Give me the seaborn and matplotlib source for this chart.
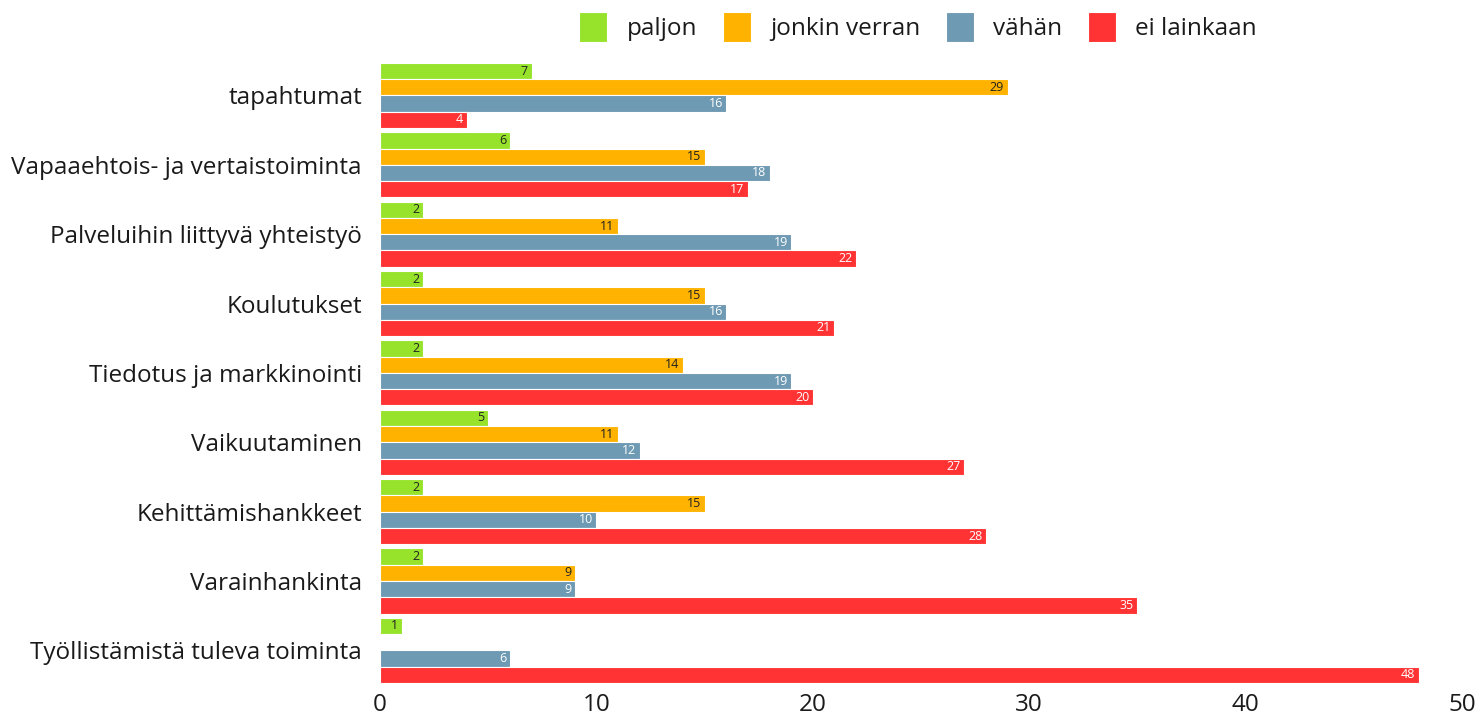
import numpy as np
import pandas as pd
import matplotlib
matplotlib.use("Agg")
import matplotlib.pyplot as plt
import seaborn as sns

categories = ["tapahtumat", "Vapaaehtois- ja vertaistoiminta", "Palveluihin liittyvä yhteistyö",
              "Koulutukset", "Tiedotus ja markkinointi", "Vaikuutaminen",
              "Kehittämishankkeet", "Varainhankinta", "Työllistämistä tuleva toiminta"]
series = ["paljon", "jonkin verran", "vähän", "ei lainkaan"]
paljon = [7, 6, 2, 2, 2, 5, 2, 2, 1]
jonkin_verran = [29, 15, 11, 15, 14, 11, 15, 9, np.nan]
vahan = [16, 18, 19, 16, 19, 12, 10, 9, 6]
ei_lainkaan = [4, 17, 22, 21, 20, 27, 28, 35, 48]

colors = ["#97e32c", "#ffb300", "#6f9ab3", "#ff3333"]
label_colors = ["#222222", "#222222", "white", "white"]

df = pd.DataFrame({"kategoria": categories, "paljon": paljon, "jonkin verran": jonkin_verran,
                   "vähän": vahan, "ei lainkaan": ei_lainkaan})
long = df.melt(id_vars="kategoria", var_name="vastaus", value_name="n")

sns.set_style("white")
plt.rcParams['font.family'] = ['Open Sans', 'DejaVu Sans']
plt.rcParams['text.color'] = '#1a1a1a'
plt.rcParams['xtick.color'] = '#1a1a1a'
plt.rcParams['ytick.color'] = '#1a1a1a'

fig = plt.figure(figsize=(14.81, 7.15), dpi=100)
ax = fig.add_axes([0.2566, 0.042, 0.7306, 0.873])

sns.barplot(data=long, y="kategoria", x="n", hue="vastaus", hue_order=series,
            palette=colors, orient="h", width=0.94, edgecolor="white", linewidth=0.8,
            saturation=1, ax=ax, legend=True)

# value labels inside the bar end, right aligned
for cont, col in zip(ax.containers, label_colors):
    for rect, v in zip(cont.patches, cont.datavalues):
        if np.isnan(v):
            continue
        ax.annotate(f"{int(v)}", (rect.get_width(), rect.get_y() + rect.get_height() / 2),
                    xytext=(-2.5, 0), textcoords="offset points", ha="right", va="center",
                    fontsize=9, color=col)

ax.set_xlim(0, 50)
ax.set_xticks([0, 10, 20, 30, 40, 50])
ax.set_xlabel("")
ax.set_ylabel("")
ax.tick_params(axis="both", length=0, labelsize=17.5)
ax.tick_params(axis="y", pad=13)
ax.tick_params(axis="x", pad=6)
sns.despine(ax=ax, left=True, bottom=True)

h, l = ax.get_legend_handles_labels()
ax.legend_.remove()
fig.legend(h, l, loc="center", bbox_to_anchor=(0.620, 0.962), ncol=4, frameon=False,
           fontsize=17.5, handlelength=1.15, handleheight=1.55, columnspacing=1.05, handletextpad=0.8)

fig.savefig("out.png", dpi=100)
